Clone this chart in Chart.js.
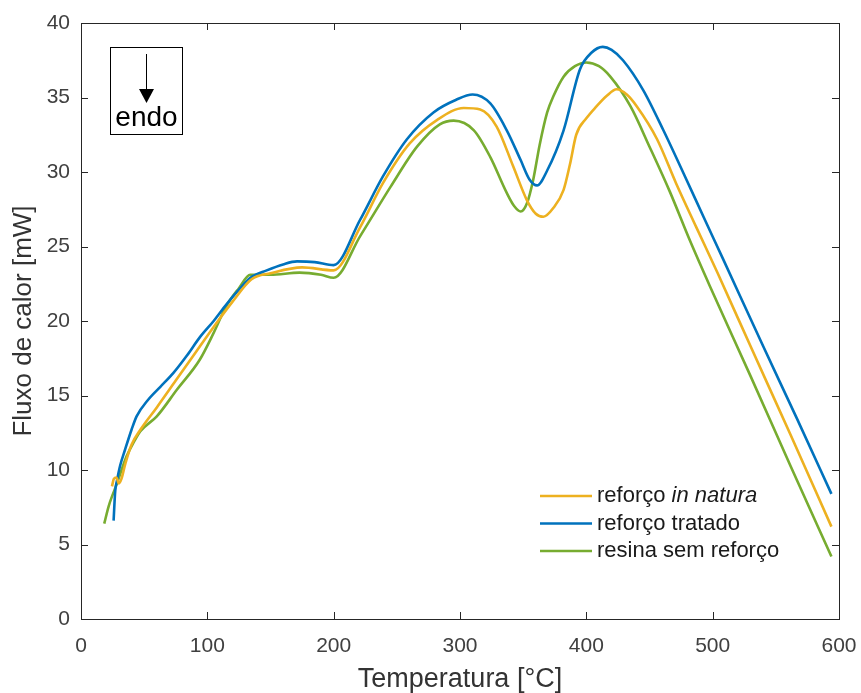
<!DOCTYPE html>
<html>
<head>
<meta charset="utf-8">
<script src="https://cdn.jsdelivr.net/npm/chart.js@4.4.1/dist/chart.umd.min.js"></script>
<style>
  html, body { margin: 0; padding: 0; background: #fff; }
  #wrap { width: 861px; height: 693px; }
</style>
</head>
<body>
<div id="wrap"><canvas id="dsc"></canvas></div>
<script>
// temperatures (°C) and heat flow (mW)
const naturaT = [24.5, 26, 28, 30, 32, 35, 40, 47, 60, 75, 90, 105, 120, 135, 150, 175, 200, 221, 239, 260, 282, 303, 316, 329, 342, 353, 360, 366, 374, 382, 387, 392, 400, 408, 416, 424, 432, 440, 456, 471, 487, 504, 530, 562, 594];
const naturaF = [8.9, 9.4, 9.5, 9.1, 9.4, 10.4, 11.7, 12.7, 14.2, 16.0, 17.8, 19.6, 21.3, 22.8, 23.2, 23.6, 23.4, 26.3, 29.25, 31.9, 33.5, 34.3, 34.2, 33.05, 30.4, 28.1, 27.2, 27.0, 27.6, 28.8, 30.5, 32.5, 33.6, 34.4, 35.1, 35.55, 35.2, 34.4, 32.2, 29.25, 26.3, 23.2, 18.3, 12.3, 6.2];

const tratadoT = [25.8, 27.1, 28.5, 31, 35, 40, 44, 53, 63, 73, 84, 94, 105, 115, 125, 134, 147, 160, 171, 185, 200, 221, 239, 258, 279, 297, 310, 324, 337, 348, 355, 361, 369, 382, 395, 404, 413, 420, 429, 445, 461, 477, 493, 508, 540, 567, 594];
const tratadoF = [6.6, 8.6, 9.3, 10.3, 11.4, 12.7, 13.6, 14.7, 15.6, 16.5, 17.7, 18.9, 20.0, 21.1, 22.1, 22.9, 23.4, 23.8, 24.0, 23.95, 23.75, 26.8, 29.7, 32.2, 34.0, 34.85, 35.2, 34.6, 32.8, 30.8, 29.5, 29.1, 30.1, 32.8, 36.9, 38.0, 38.4, 38.2, 37.5, 35.5, 32.8, 29.9, 26.95, 24.2, 18.3, 13.4, 8.4];

const resinaT = [18.4, 22, 28.5, 36, 42, 47, 60, 76, 94, 105, 115, 125, 134, 150, 173, 190, 200, 221, 245, 266, 284, 295, 311, 324, 337, 343, 348, 353, 358, 363, 369, 374, 382, 391, 400, 410, 419, 435, 450, 466, 482, 498, 530, 562, 594];
const resinaF = [6.4, 7.6, 9.1, 10.9, 11.9, 12.6, 13.6, 15.4, 17.4, 19.2, 21.0, 22.2, 23.1, 23.1, 23.25, 23.1, 22.9, 25.7, 29.0, 31.7, 33.2, 33.45, 32.8, 31.0, 28.6, 27.7, 27.35, 27.9, 29.5, 31.8, 34.0, 35.1, 36.4, 37.1, 37.35, 37.1, 36.4, 34.4, 31.7, 28.7, 25.4, 22.3, 16.3, 10.2, 4.2];

const seriesNames = ["reforço in natura", "reforço tratado", "resina sem reforço"];
const xTicks = [0, 100, 200, 300, 400, 500, 600];
const yTicks = [0, 5, 10, 15, 20, 25, 30, 35, 40];

const FONT = "'Liberation Sans', Arial, Helvetica, sans-serif";
const axisGray = "#262626";

function pts(xs, ys) {
    return xs.map((x, i) => ({ x: x, y: ys[i] }));
}

// box, inward ticks, "endo" marker and the legend (with italic part)
const matlabLook = {
    id: "matlabLook",
    afterDraw(chart) {
        const ctx = chart.ctx;
        const a = chart.chartArea;
        const xs = chart.scales.x, ys = chart.scales.y;
        ctx.save();
        ctx.strokeStyle = axisGray;
        ctx.lineWidth = 1;
        ctx.strokeRect(Math.round(a.left) + 0.5, Math.round(a.top) + 0.5, Math.round(a.right - a.left), Math.round(a.bottom - a.top));
        ctx.beginPath();
        xTicks.forEach(v => {
            const px = Math.round(xs.getPixelForValue(v)) + 0.5;
            ctx.moveTo(px, a.bottom); ctx.lineTo(px, a.bottom - 7);
            ctx.moveTo(px, a.top); ctx.lineTo(px, a.top + 7);
        });
        yTicks.forEach(v => {
            const py = Math.round(ys.getPixelForValue(v)) + 0.5;
            ctx.moveTo(a.left, py); ctx.lineTo(a.left + 7, py);
            ctx.moveTo(a.right, py); ctx.lineTo(a.right - 7, py);
        });
        ctx.stroke();

        // endo box
        ctx.strokeStyle = "#000";
        ctx.strokeRect(110.5, 47.5, 72, 87);
        ctx.beginPath();
        ctx.moveTo(146.5, 54); ctx.lineTo(146.5, 90);
        ctx.stroke();
        ctx.fillStyle = "#000";
        ctx.beginPath();
        ctx.moveTo(139, 89); ctx.lineTo(154, 89); ctx.lineTo(146.5, 103);
        ctx.closePath(); ctx.fill();
        ctx.font = "28px " + FONT;
        ctx.textAlign = "center";
        ctx.textBaseline = "alphabetic";
        ctx.fillText("endo", 146.5, 126);

        // legend
        const rows = [
            { c: "#EDB120", parts: [["reforço ", false], ["in natura", true]] },
            { c: "#0072BD", parts: [["reforço tratado", false]] },
            { c: "#77AC30", parts: [["resina sem reforço", false]] }
        ];
        ctx.textAlign = "left";
        ctx.textBaseline = "middle";
        rows.forEach((r, i) => {
            const y = 496 + i * 27.5;
            ctx.strokeStyle = r.c;
            ctx.lineWidth = 2.5;
            ctx.beginPath();
            ctx.moveTo(540, y); ctx.lineTo(592, y);
            ctx.stroke();
            let x = 597;
            ctx.fillStyle = "#1a1a1a";
            r.parts.forEach(p => {
                ctx.font = (p[1] ? "italic " : "") + "22px " + FONT;
                ctx.fillText(p[0], x, y);
                x += ctx.measureText(p[0]).width;
            });
        });
        ctx.restore();
    }
};

const ctx = document.getElementById("dsc").getContext("2d");
new Chart(ctx, {
    type: "line",
    data: {
        datasets: [
            { label: seriesNames[0], data: pts(naturaT, naturaF), borderColor: "#EDB120" },
            { label: seriesNames[1], data: pts(tratadoT, tratadoF), borderColor: "#0072BD" },
            { label: seriesNames[2], data: pts(resinaT, resinaF), borderColor: "#77AC30" }
        ]
    },
    options: {
        responsive: true,
        maintainAspectRatio: false,
        animation: false,
        layout: { padding: { top: 23, right: 22, left: 0, bottom: 0 } },
        elements: {
            line: { borderWidth: 2.6, cubicInterpolationMode: "monotone", fill: false },
            point: { radius: 0, hoverRadius: 0 }
        },
        plugins: {
            legend: { display: false },
            tooltip: { enabled: false }
        },
        scales: {
            x: {
                type: "linear",
                min: 0, max: 600,
                afterFit: s => { s.height = 74; s.paddingLeft = 0; s.paddingRight = 0; },
                afterBuildTicks: s => { s.ticks = xTicks.map(v => ({ value: v })); },
                grid: { display: false, drawTicks: false },
                border: { display: true, color: axisGray },
                ticks: { color: "#404040", padding: 15, maxRotation: 0, font: { family: FONT, size: 21 } },
                title: { display: true, text: "Temperatura [°C]", color: "#333", padding: { top: 0, bottom: -3 }, font: { family: FONT, size: 27 } }
            },
            y: {
                min: 0, max: 40,
                afterFit: s => { s.width = 81; s.paddingTop = 0; s.paddingBottom = 0; },
                afterBuildTicks: s => { s.ticks = yTicks.map(v => ({ value: v })); },
                grid: { display: false, drawTicks: false },
                border: { display: true, color: axisGray },
                ticks: { color: "#404040", padding: 11, font: { family: FONT, size: 21 } },
                title: { display: true, text: "Fluxo de calor [mW]", color: "#333", padding: { top: 8, bottom: 0 }, font: { family: FONT, size: 26 } }
            }
        }
    },
    plugins: [matlabLook]
});
</script>
</body>
</html>
